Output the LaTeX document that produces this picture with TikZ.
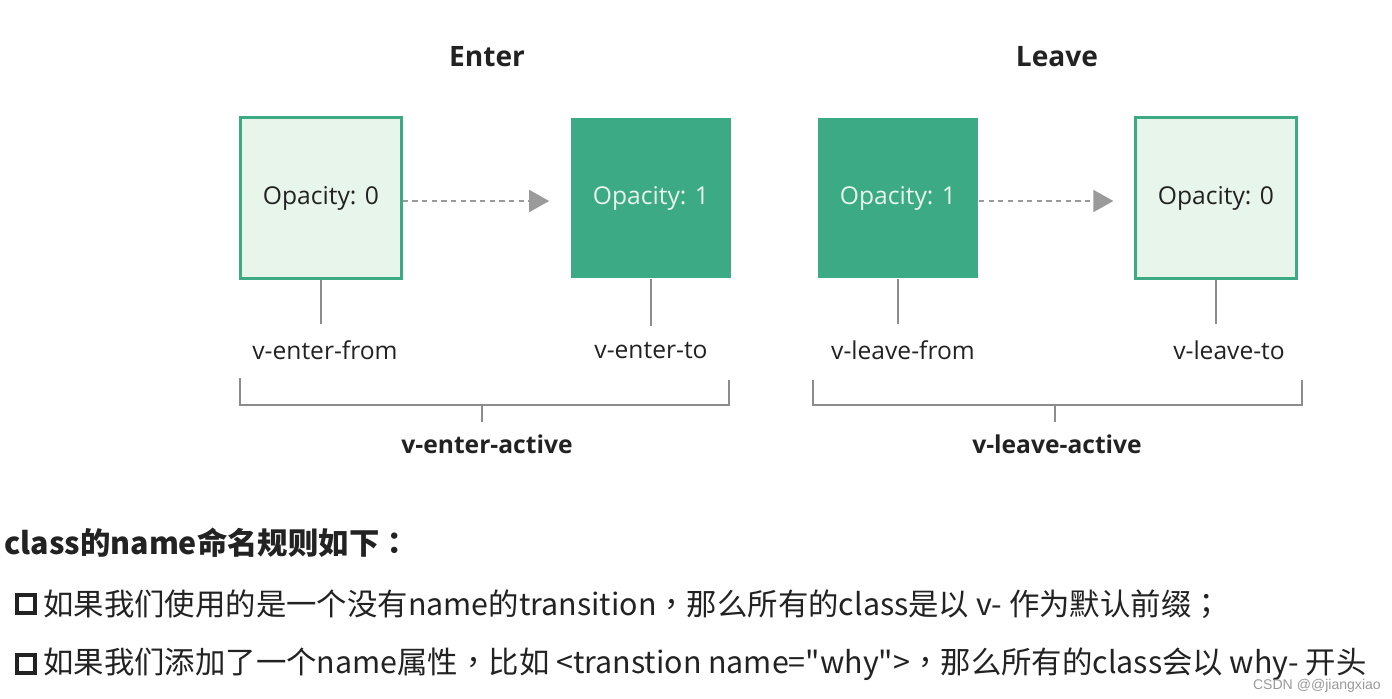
\documentclass[tikz,border=0pt]{standalone}
\usepackage{fontspec}
\usepackage{tikz}
\usetikzlibrary{arrows.meta,positioning}
\setmainfont{Open Sans}
\newfontfamily\cjk{Noto Sans CJK SC}[Ligatures=TeXOff]
\newfontfamily\cjkpunt{Noto Sans CJK TC}[Ligatures=TeXOff]
\newfontfamily\firmafont{Liberation Sans}
\newcommand{\virgola}{{\cjkpunt ，}}
\newcommand{\puntovirgola}{{\cjkpunt ；}}
\newcommand{\duepunti}{{\cjkpunt ：}}
\definecolor{verde}{HTML}{3CAA85}
\definecolor{verdino}{HTML}{E8F5EB}
\definecolor{grigio}{HTML}{9A9A9A}
\definecolor{linea}{HTML}{8C8C8C}
\definecolor{testo}{HTML}{222222}

\tikzset{
  chiaro/.style={draw=verde, fill=verdino, line width=1.3pt, minimum size=3.22cm,
    inner sep=0pt, text=testo, font=\fontsize{14}{16}\selectfont},
  pieno/.style={fill=verde, minimum size=3.22cm, inner sep=0pt, text=verdino,
    font=\fontsize{14}{16}\selectfont},
  freccia/.style={grigio, line width=1pt, dash pattern=on 3pt off 2.5pt,
    -{Triangle[length=0.4cm,width=0.44cm]}, shorten >=0.42cm},
  asta/.style={linea, line width=1pt},
  etichetta/.style={text=testo, font=\fontsize{14}{16}\selectfont},
  titoletto/.style={text=testo, font=\bfseries\fontsize{16}{18}\selectfont},
  attivo/.style={text=testo, font=\bfseries\fontsize{14}{16}\selectfont},
  riga/.style={anchor=west, inner sep=0pt, text=testo, font=\cjk\fontsize{17.3}{20}\selectfont},
  quadretto/.style={draw=testo, line width=2.5pt, minimum size=0.35cm, inner sep=0pt}
}

\begin{document}
\begin{tikzpicture}[x=0.02cm, y=-0.02cm]
  \fill[white] (0,0) rectangle (1392,698);
  \useasboundingbox (0,0) rectangle (1392,698);
  % Titoli
  \node[titoletto] (enter) at (487,57) {Enter};
  \node[titoletto] (leave) at (1057,57) {Leave};
  % Riquadri
  \node[chiaro] (ef) at (321,198) {Opacity: 0};
  \node[pieno]  (et) at (651,198) {Opacity: 1};
  \node[pieno]  (lf) at (898,198) {Opacity: 1};
  \node[chiaro] (lt) at (1216,198) {Opacity: 0};
  % Frecce
  \draw[freccia] ([yshift=-0.06cm]ef.east) -- ([yshift=-0.06cm]et.west);
  \draw[freccia] ([yshift=-0.06cm]lf.east) -- ([yshift=-0.06cm]lt.west);
  % Etichette
  \node[etichetta] (nef) at (325,350) {v-enter-from};
  \node[etichetta] (net) at (651,350) {v-enter-to};
  \node[etichetta] (nlf) at (903,350) {v-leave-from};
  \node[etichetta] (nlt) at (1229,350) {v-leave-to};
  \foreach \a/\b in {ef/nef, et/net, lf/nlf, lt/nlt} {
    \draw[asta, shorten >=0.2cm] (\a.south) -- (\a.south |- \b.north);
  }
  % Parentesi
  \draw[asta] (240,378) |- (729,405) -- (729,380);
  \draw[asta] (813,380) |- (1302,405) -- (1302,380);
  \coordinate (g1) at (482,405);
  \coordinate (g2) at (1055,405);
  \node[attivo] (ea) at (487,444) {v-enter-active};
  \node[attivo] (la) at (1057,444) {v-leave-active};
  \draw[asta, shorten >=0.12cm] (g1) -- (g1 |- ea.north);
  \draw[asta, shorten >=0.12cm] (g2) -- (g2 |- la.north);
  % Regole
  \node[riga, font=\cjk\bfseries\fontsize{17.3}{20}\selectfont] (regole) at (4,543) {class的name命名规则如下\duepunti};
  \node[quadretto] (q1) at (26,604) {};
  \node[riga, right=0.12cm of q1] (r1) {如果我们使用的是一个没有name的transition\virgola 那么所有的class是以 v- 作为默认前缀\puntovirgola};
  \node[quadretto] (q2) at (26,664) {};
  \node[riga, right=0.12cm of q2] (r2) {如果我们添加了一个name属性\virgola 比如 <transtion name="why">\virgola 那么所有的class会以 why- 开头};
  % Firma
  \node[anchor=east, text=grigio, font=\firmafont\fontsize{8}{10}\selectfont] (firma) at (1387,686) {CSDN @@jiangxiao};
\end{tikzpicture}
\end{document}
